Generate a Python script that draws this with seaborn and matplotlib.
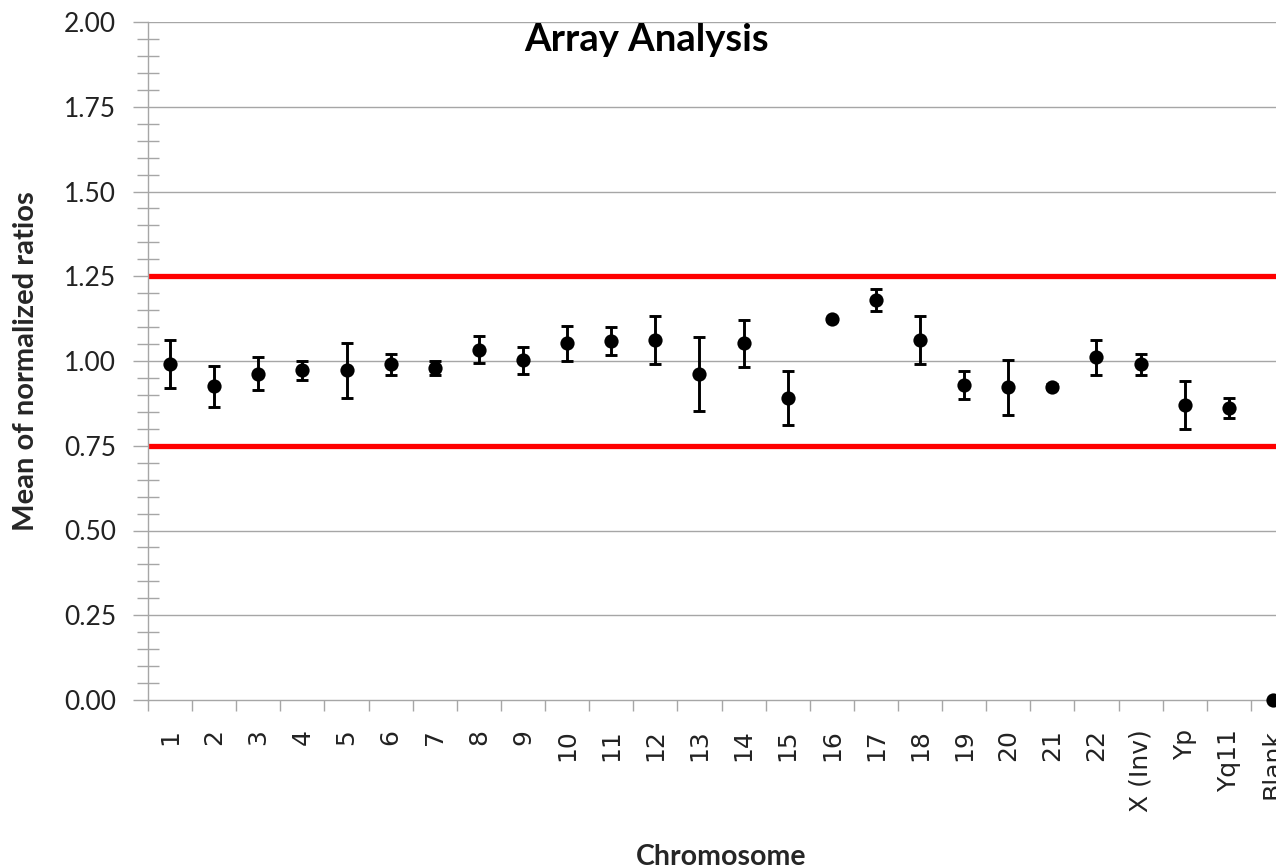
import matplotlib
matplotlib.use("Agg")
import matplotlib.pyplot as plt
from matplotlib.ticker import MultipleLocator, FixedLocator
import seaborn as sns
import pandas as pd

# ---- data ----
chromosomes = ['1', '2', '3', '4', '5', '6', '7', '8', '9', '10', '11', '12', '13',
               '14', '15', '16', '17', '18', '19', '20', '21', '22', 'X (Inv)', 'Yp',
               'Yq11', 'Blank']
mean_ratio = [0.990, 0.925, 0.962, 0.972, 0.972, 0.990, 0.980, 1.033, 1.002, 1.052,
              1.060, 1.062, 0.962, 1.052, 0.890, 1.123, 1.180, 1.062, 0.930, 0.922,
              0.924, 1.011, 0.990, 0.870, 0.862, 0.000]
err = [0.071, 0.060, 0.049, 0.029, 0.082, 0.032, 0.020, 0.040, 0.040, 0.051,
       0.041, 0.072, 0.110, 0.069, 0.080, 0.005, 0.032, 0.072, 0.041, 0.080,
       0.007, 0.052, 0.032, 0.072, 0.030, 0.000]
threshold_hi = 1.25
threshold_lo = 0.75
y_ticks = [0.00, 0.25, 0.50, 0.75, 1.00, 1.25, 1.50, 1.75, 2.00]

df = pd.DataFrame({"Chromosome": chromosomes, "Mean": mean_ratio, "Err": err})

sns.set_theme(style="white")
plt.rcParams['font.family'] = ['Lato', 'DejaVu Sans']

W, H = 1276, 866
fig = plt.figure(figsize=(W / 100, H / 100), dpi=100)
fig.patch.set_facecolor("white")
left_px, right_px, top_px, bot_px = 148, 1295, 22, 700
ax = fig.add_axes([left_px / W, 1 - bot_px / H, (right_px - left_px) / W, (bot_px - top_px) / H])
ax.set_facecolor("white")

grey = "#a6a6a6"
for y in y_ticks[1:]:
    ax.axhline(y, color=grey, lw=1.0, zorder=0)
ax.axhline(threshold_hi, color="#ff0000", lw=3.8, zorder=1)
ax.axhline(threshold_lo, color="#ff0000", lw=3.8, zorder=1)

ax.errorbar(df["Chromosome"], df["Mean"], yerr=df["Err"], fmt="none",
            ecolor="black", elinewidth=2.1, capsize=4.5, capthick=2.1, zorder=3)
sns.scatterplot(data=df, x="Chromosome", y="Mean", ax=ax, color="black",
                s=105, edgecolor="black", linewidth=0, zorder=4, clip_on=False)

n = len(chromosomes)
ax.set_xlim(-0.5, n - 0.5)
ax.set_ylim(0, 2.0)

# spines
for s in ["top", "right"]:
    ax.spines[s].set_visible(False)
for s in ["left", "bottom"]:
    ax.spines[s].set_color(grey)
    ax.spines[s].set_linewidth(1.0)

# y ticks
ax.yaxis.set_major_locator(FixedLocator(y_ticks))
ax.yaxis.set_minor_locator(MultipleLocator(0.05))
ax.set_yticklabels([f"{v:.2f}" for v in y_ticks])
ax.tick_params(axis="y", which="major", left=True, length=11, width=1.0, color=grey,
               direction="out", labelsize=19, pad=12, labelcolor="#222222")
ax.tick_params(axis="y", which="minor", left=True, length=16, width=1.0, color=grey,
               direction="inout")

# x ticks: labels at category centres, tick marks at boundaries
ax.set_xticks(range(n))
ax.set_xticklabels(chromosomes, rotation=90, family="DejaVu Sans")
ax.xaxis.set_minor_locator(FixedLocator([i - 0.5 for i in range(n + 1)]))
ax.tick_params(axis="x", which="major", bottom=True, length=0, labelsize=18,
               pad=21, labelcolor="#222222")
ax.tick_params(axis="x", which="minor", bottom=True, length=8, width=1.0, color=grey,
               direction="out")

ax.set_xlabel("Chromosome", fontsize=20.5, fontweight="bold", labelpad=0)
ax.xaxis.set_label_coords(0.5, -0.213)
ax.set_ylabel("Mean of normalized ratios", fontsize=21, fontweight="bold")
ax.yaxis.set_label_coords(-0.095, 0.5)

fig.text(647 / W, 1 - 40 / H, "Array Analysis", ha="center", va="center",
         fontsize=27.5, fontweight="bold", color="black")

fig.savefig("out.png", dpi=100, facecolor="white")
